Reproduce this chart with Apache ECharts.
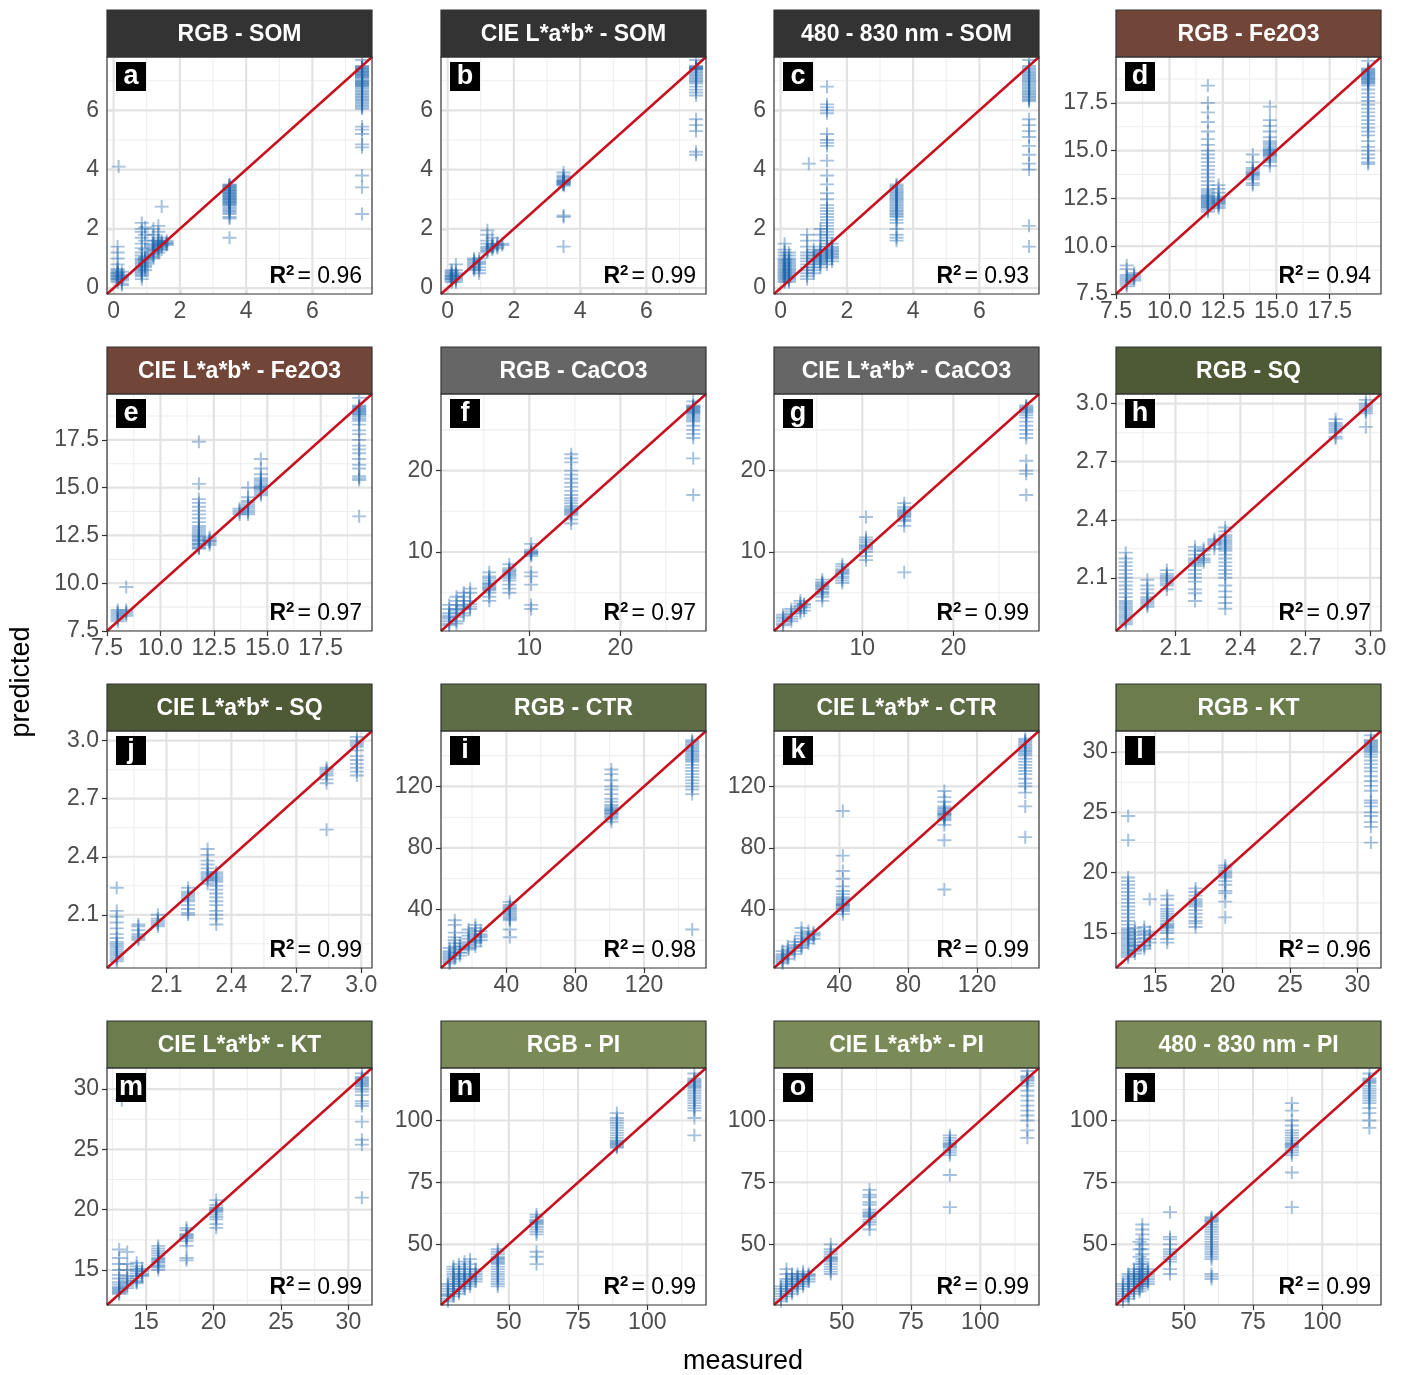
<!DOCTYPE html>
<html>
<head>
<meta charset="utf-8">
<script src="https://cdn.jsdelivr.net/npm/echarts@6/dist/echarts.min.js"></script>
<style>
  html, body { margin: 0; padding: 0; background: #fff; }
  #chart { width: 1401px; height: 1375px; }
</style>
</head>
<body>
<div id="chart"></div>
<script>
// panel titles, letters and R2 labels (reading order of the figure)
var panelTitles = ['RGB - SOM', 'CIE L*a*b* - SOM', '480 - 830 nm - SOM', 'RGB - Fe2O3',
  'CIE L*a*b* - Fe2O3', 'RGB - CaCO3', 'CIE L*a*b* - CaCO3', 'RGB - SQ',
  'CIE L*a*b* - SQ', 'RGB - CTR', 'CIE L*a*b* - CTR', 'RGB - KT',
  'CIE L*a*b* - KT', 'RGB - PI', 'CIE L*a*b* - PI', '480 - 830 nm - PI'];
var panelLetters = ['a', 'b', 'c', 'd', 'e', 'f', 'g', 'h', 'j', 'i', 'k', 'l', 'm', 'n', 'o', 'p'];
var r2Labels = ['0.96', '0.99', '0.93', '0.94', '0.97', '0.97', '0.99', '0.97',
  '0.99', '0.98', '0.99', '0.96', '0.99', '0.99', '0.99', '0.99'];
var panelProps = ['SOM', 'SOM', 'SOM', 'Fe2O3', 'Fe2O3', 'CaCO3', 'CaCO3', 'SQ',
  'SQ', 'CTR', 'CTR', 'KT', 'KT', 'PI', 'PI', 'PI'];

// axis limits and breaks per soil property (same on x and y)
var propLimits = {
  SOM: [-0.2, 7.8], Fe2O3: [7.5, 19.9], CaCO3: [0.3, 29.4], SQ: [1.825, 3.05],
  CTR: [2, 156], KT: [12.1, 31.75], PI: [25.5, 121.2]
};
var propTicks = {
  SOM: [0, 2, 4, 6], Fe2O3: [7.5, 10, 12.5, 15, 17.5], CaCO3: [10, 20], SQ: [2.1, 2.4, 2.7, 3.0],
  CTR: [40, 80, 120], KT: [15, 20, 25, 30], PI: [50, 75, 100]
};
var propMinor = {
  SOM: [1, 3, 5, 7], Fe2O3: [8.75, 11.25, 13.75, 16.25, 18.75], CaCO3: [5, 15, 25],
  SQ: [1.95, 2.25, 2.55, 2.85], CTR: [20, 60, 100, 140], KT: [12.5, 17.5, 22.5, 27.5],
  PI: [37.5, 62.5, 87.5, 112.5]
};
var propDecimals = { SOM: 0, Fe2O3: 1, CaCO3: 0, SQ: 1, CTR: 0, KT: 0, PI: 0 };

// data: [measured, [predicted ...]]
var somRgb = [
  [0.12, [0.2, 0.25, 0.3, 0.35, 0.4, 0.45, 0.5, 0.55, 0.6, 0.3, 0.4, 0.5, 0.65, 0.8, 1.0, 1.2, 1.4]],
  [0.25, [0.15, 0.25, 0.35, 0.45, 0.55, 0.3, 0.4, 0.1]],
  [0.15, [4.1]],
  [0.85, [0.4, 0.5, 0.6, 0.7, 0.8, 0.9, 1.0, 1.1, 1.2, 1.35, 1.5, 1.7, 1.9, 2.0, 2.2, 0.3, 0.45, 0.55, 0.65, 0.75, 0.85, 0.95]],
  [0.95, [0.6, 0.7, 0.8, 0.9, 1.0, 0.75, 0.85, 0.95, 1.05, 1.3, 1.6, 1.8, 2.05]],
  [1.2, [1.0, 1.1, 1.2, 1.3, 1.4, 1.5, 1.6, 1.8, 2.0, 1.25, 1.35, 1.45, 1.15, 1.05]],
  [1.35, [1.2, 1.3, 1.4, 1.5, 1.6, 1.7, 1.9, 2.1, 1.35, 1.45, 1.55]],
  [1.45, [1.3, 1.4, 1.5, 1.6, 2.75, 1.45, 1.55]],
  [1.6, [1.45, 1.5, 1.55, 1.6, 1.5]],
  [3.5, [3.5, 3.45, 3.4, 3.35, 3.3, 3.25, 3.2, 3.15, 3.1, 3.05, 3.0, 2.95, 2.9, 2.85, 2.8, 2.7, 2.6, 2.5, 2.4, 2.35, 1.7,
    3.48, 3.42, 3.38, 3.32, 3.28, 3.22, 3.18, 3.12, 3.08, 3.02, 2.98, 2.92, 2.88, 2.82, 2.75, 2.65, 2.55]],
  [7.5, [7.5, 7.45, 7.4, 7.35, 7.3, 7.25, 7.2, 7.15, 7.1, 7.0, 6.95, 6.9, 6.85, 6.8, 6.7, 6.6, 6.5, 6.4, 6.3, 6.2, 6.1, 6.05, 5.45, 5.35, 5.2, 4.85, 4.75, 3.8, 3.4, 2.5,
    7.48, 7.42, 7.38, 7.32, 7.28, 7.22, 7.18, 7.12, 7.05, 6.98, 6.92, 6.88, 6.82, 6.75, 6.65, 6.55, 6.45, 6.35, 6.25, 6.15, 7.7]]
];
var somLab = [
  [0.12, [0.2, 0.25, 0.3, 0.35, 0.4, 0.45, 0.5, 0.55, 0.6, 0.3, 0.4]],
  [0.25, [0.2, 0.3, 0.4, 0.5, 0.6, 0.8, 0.25, 0.35, 0.45]],
  [0.8, [0.6, 0.65, 0.7, 0.75, 0.8, 0.85, 0.9, 0.95, 1.0]],
  [0.95, [0.7, 0.8, 0.9, 1.0, 0.85, 0.6, 0.5]],
  [1.2, [1.2, 1.25, 1.3, 1.35, 1.4, 1.5, 1.6, 1.8, 1.95]],
  [1.35, [1.3, 1.35, 1.4, 1.45, 1.5, 1.7]],
  [1.5, [1.4, 1.45, 1.5, 1.35]],
  [1.65, [1.45, 1.5]],
  [3.5, [3.5, 3.55, 3.6, 3.65, 3.7, 3.75, 3.8, 3.9, 3.45, 3.5, 3.6, 2.4, 2.45, 1.4, 3.52, 3.57, 3.62]],
  [7.5, [7.5, 7.45, 7.4, 7.35, 7.3, 7.2, 7.1, 7.0, 6.9, 6.8, 6.7, 6.6, 6.5, 5.7, 5.5, 5.3, 4.6, 4.5, 7.45, 7.4, 7.48, 7.42, 7.38, 7.25, 7.15, 7.05, 6.95, 7.7]]
];
var somSpec = [
  [0.12, [0.2, 0.3, 0.4, 0.5, 0.6, 0.7, 0.8, 0.9, 1.0, 1.1, 1.2, 0.25, 0.35, 0.45, 0.55, 0.65, 0.75, 0.85, 0.95, 1.3, 1.5]],
  [0.25, [0.2, 0.3, 0.4, 0.5, 0.6, 0.7, 0.8, 0.9, 1.0, 1.1, 1.2, 0.25, 0.35, 0.45, 0.55, 0.65, 0.75, 0.85, 0.95]],
  [0.8, [0.4, 0.5, 0.6, 0.7, 0.8, 0.9, 1.0, 1.1, 1.2, 1.4, 1.6, 1.8, 0.3]],
  [0.85, [4.2]],
  [1.0, [0.6, 0.7, 0.8, 0.9, 1.0, 1.1, 1.2, 1.3, 0.5]],
  [1.2, [0.8, 0.9, 1.0, 1.1, 1.2, 1.3, 1.4, 0.7, 1.6, 1.8, 2.0, 0.85, 0.95, 1.05, 1.15, 1.25]],
  [1.4, [0.8, 0.9, 1.0, 1.1, 1.2, 1.3, 1.4, 1.5, 1.6, 1.7, 1.8, 1.9, 2.0, 2.1, 2.2, 2.3, 2.4, 2.5, 2.6, 2.7, 2.8, 3.0, 3.2, 3.5, 3.8, 4.3, 4.8, 4.9, 5.0, 5.2, 5.9, 6.0, 6.1, 6.2, 6.8]],
  [1.55, [1.0, 1.1, 1.2, 1.3, 1.4, 0.9, 1.5, 1.05, 1.15, 1.25, 1.35]],
  [3.5, [3.5, 3.45, 3.4, 3.3, 3.2, 3.1, 3.0, 2.9, 2.8, 2.7, 2.6, 2.5, 2.4, 2.3, 2.2, 2.0, 1.8, 1.7, 1.6,
    3.35, 3.25, 3.15, 3.05, 2.95, 2.85, 2.75, 2.65, 2.55, 2.45]],
  [7.5, [7.5, 7.45, 7.4, 7.3, 7.2, 7.1, 7.0, 6.9, 6.8, 6.7, 6.6, 6.5, 6.4, 6.3, 5.7, 5.5, 5.3, 5.1, 4.8, 4.5, 4.2, 4.0, 2.1, 1.4,
    7.35, 7.25, 7.15, 7.05, 6.95, 6.85, 6.75, 6.65, 6.55, 6.45, 6.35, 7.7]]
];
var feRgb = [
  [8.0, [8.0, 8.1, 8.2, 8.3, 8.4, 8.5, 8.8, 9.0, 7.9]],
  [8.35, [8.2, 8.3, 8.4, 8.5, 8.6]],
  [11.8, [11.8, 11.9, 12.0, 12.1, 12.2, 12.3, 12.4, 12.5, 12.6, 12.7, 12.8, 12.9, 13.0, 13.2, 13.4, 13.6, 13.8, 14.0, 14.2, 14.4, 14.6, 14.8, 15.0, 15.3, 15.6, 16.0, 16.5, 17.0, 17.5, 18.4, 12.15, 12.35, 12.55, 12.05, 12.25, 12.45, 12.65]],
  [12.3, [12.0, 12.1, 12.2, 12.3, 12.4, 12.5, 12.6, 12.8, 13.0, 13.2, 12.25, 12.45, 12.35]],
  [13.9, [13.6, 13.7, 13.8, 13.9, 14.0, 14.1, 13.5, 13.3, 13.2, 14.4, 14.8, 13.75, 13.85]],
  [14.7, [14.5, 14.6, 14.7, 14.8, 14.9, 15.0, 15.1, 15.2, 15.3, 15.4, 15.5, 15.7, 16.0, 16.3, 16.6, 17.3, 14.4, 14.2, 14.75, 14.85, 14.95, 15.05]],
  [19.3, [19.3, 19.2, 19.1, 19.0, 18.9, 18.8, 18.7, 18.6, 18.5, 18.4, 18.2, 18.0, 17.8, 17.6, 17.4, 17.2, 17.0, 16.8, 16.6, 16.4, 16.2, 16.0, 15.8, 15.5, 15.2, 15.0, 14.8, 14.6, 14.4, 14.3,
    19.25, 19.15, 19.05, 18.95, 18.85, 18.75, 18.65, 18.55, 19.7]]
];
var feLab = [
  [8.0, [8.0, 8.1, 8.2, 8.3, 8.4, 8.5, 8.6]],
  [8.4, [8.3, 8.4, 8.5, 8.6, 9.8]],
  [11.8, [11.8, 11.9, 12.0, 12.1, 12.2, 12.3, 12.4, 12.5, 12.6, 12.7, 12.8, 12.9, 13.0, 13.2, 13.4, 13.6, 13.8, 14.0, 14.2, 14.4, 15.2, 17.4, 11.85, 12.05, 12.25, 12.45]],
  [12.3, [12.0, 12.1, 12.2, 12.3, 12.4, 12.2]],
  [13.7, [13.6, 13.7, 13.8, 13.9]],
  [14.1, [13.7, 13.8, 13.9, 14.0, 14.1, 14.2, 14.3, 14.5, 15.0, 13.6]],
  [14.7, [14.7, 14.8, 14.9, 15.0, 15.1, 15.2, 15.3, 15.4, 15.5, 15.7, 16.0, 16.5, 14.6, 14.95, 15.05]],
  [19.3, [19.3, 19.2, 19.1, 19.0, 18.9, 18.8, 18.7, 18.6, 18.5, 18.3, 18.0, 17.8, 17.5, 17.2, 17.0, 16.8, 16.5, 16.2, 16.0, 15.6, 15.5, 15.4, 13.5,
    19.25, 19.15, 19.05, 18.95, 18.85, 19.7]]
];
var caRgb = [
  [1.2, [1.0, 1.5, 2.0, 2.5, 3.0, 3.5, 1.2, 1.8, 2.2]],
  [2.0, [1.5, 2.0, 2.5, 3.0, 3.5, 4.0, 4.5, 1.2, 2.8]],
  [2.8, [2.5, 3.0, 3.5, 4.0, 4.5, 5.0, 2.2, 3.3]],
  [3.5, [3.0, 3.3, 3.6, 4.0, 5.0, 5.5]],
  [5.6, [5.0, 5.3, 5.6, 5.9, 6.2, 6.5, 6.8, 7.0, 4.5, 4.0, 7.5, 5.45, 5.75, 6.05]],
  [7.8, [6.5, 6.8, 7.0, 7.2, 7.5, 7.8, 8.0, 6.0, 5.5, 5.0, 8.5, 7.35, 7.65]],
  [10.2, [9.5, 9.7, 9.9, 10.1, 10.3, 10.0, 9.8, 7.5, 7.0, 6.0, 3.5, 3.0, 11.0]],
  [14.6, [14.5, 14.7, 15.0, 15.3, 15.5, 15.7, 16.0, 16.3, 16.6, 17.0, 17.5, 18.0, 18.5, 19.0, 19.5, 20.0, 21.0, 21.5, 22.0, 14.0, 13.5, 14.85, 15.15]],
  [28.0, [28.0, 27.8, 27.6, 27.4, 27.2, 27.0, 26.8, 26.6, 26.4, 26.2, 26.0, 25.5, 25.0, 24.5, 24.0, 21.5, 17.0, 28.5, 27.9, 27.7, 27.5, 27.3, 27.1]]
];
var caLab = [
  [1.3, [1.2, 1.5, 1.8, 2.0, 2.3, 1.0]],
  [2.2, [1.8, 2.1, 2.4, 2.7, 3.0, 1.5]],
  [3.2, [2.5, 2.8, 3.1, 3.4, 3.7, 4.0, 3.3]],
  [3.6, [3.2, 3.5, 3.6, 2.8]],
  [5.6, [4.5, 4.8, 5.1, 5.4, 5.7, 6.0, 6.3, 6.6, 5.0, 5.5, 4.0, 5.85, 6.15]],
  [7.8, [6.5, 6.8, 7.0, 7.3, 7.6, 7.9, 8.2, 6.2, 8.5, 7.45, 7.75]],
  [10.4, [10.0, 10.3, 10.6, 10.9, 11.2, 11.5, 11.8, 9.5, 9.0, 14.3, 10.45, 10.75]],
  [14.6, [14.0, 14.3, 14.6, 14.9, 15.2, 15.5, 13.8, 13.2, 16.0, 7.5, 14.45, 14.75, 15.05]],
  [28.0, [28.0, 27.7, 27.4, 27.1, 26.8, 26.5, 26.0, 25.5, 25.0, 24.5, 24.0, 21.2, 20.0, 19.6, 17.0, 27.85, 27.55, 27.25]]
];
var sqRgb = [
  [1.87, [1.86, 1.88, 1.9, 1.92, 1.94, 1.96, 1.98, 2.0, 2.02, 2.04, 2.06, 2.08, 2.1, 2.12, 2.14, 2.16, 2.18, 2.2, 2.23, 1.89, 1.91, 1.93, 1.87, 1.95, 1.97]],
  [1.97, [1.96, 1.97, 1.98, 1.99, 2.0, 2.02, 2.04, 2.06, 2.09, 1.95]],
  [2.06, [2.06, 2.07, 2.08, 2.09, 2.1, 2.11, 2.12, 2.04, 2.14]],
  [2.19, [2.1, 2.12, 2.14, 2.16, 2.18, 2.2, 2.22, 2.24, 2.26, 2.04, 2.02, 2.08, 1.98, 2.17, 2.19]],
  [2.23, [2.18, 2.2, 2.22, 2.24, 2.25, 2.19]],
  [2.28, [2.25, 2.27, 2.29, 2.3, 2.28]],
  [2.33, [2.2, 2.22, 2.24, 2.26, 2.28, 2.3, 2.32, 2.18, 2.16, 2.14, 2.12, 2.1, 2.06, 2.03, 2.0, 1.97, 1.94, 2.34, 2.36, 2.25, 2.27, 2.29, 2.31]],
  [2.84, [2.83, 2.85, 2.87, 2.89, 2.9, 2.92, 2.82, 2.86, 2.88]],
  [2.98, [2.95, 2.96, 2.97, 2.98, 2.99, 3.0, 2.88, 3.02]]
];
var sqLab = [
  [1.87, [1.86, 1.88, 1.9, 1.92, 1.94, 1.96, 1.98, 2.0, 2.03, 2.06, 2.09, 2.12, 1.89, 1.91, 1.95, 2.24, 1.87, 1.93]],
  [1.97, [1.97, 1.98, 1.99, 2.0, 2.02, 2.04, 2.05]],
  [2.06, [2.04, 2.05, 2.06, 2.07, 2.08, 2.1]],
  [2.2, [2.15, 2.17, 2.19, 2.21, 2.22, 2.13, 2.11, 2.1, 2.24, 2.18, 2.2]],
  [2.29, [2.28, 2.3, 2.31, 2.32, 2.34, 2.36, 2.38, 2.41, 2.44, 2.26, 2.29]],
  [2.33, [2.15, 2.17, 2.19, 2.21, 2.23, 2.25, 2.27, 2.29, 2.31, 2.32, 2.12, 2.1, 2.08, 2.05, 2.3, 2.28]],
  [2.84, [2.83, 2.84, 2.85, 2.86, 2.82, 2.8, 2.78, 2.54]],
  [2.98, [2.97, 2.98, 2.99, 3.0, 2.95, 2.92, 2.9, 2.88, 2.86, 2.84, 2.82, 3.02]]
];
var ctrRgb = [
  [7, [5, 7, 9, 11, 13, 15, 8, 10, 12, 6]],
  [10, [8, 10, 12, 14, 16, 18, 20, 22, 25, 30, 33]],
  [13, [10, 12, 14, 16, 18, 12]],
  [18, [15, 17, 19, 21, 23, 25, 14, 27]],
  [22, [16, 18, 20, 22, 24, 26, 28, 30, 19]],
  [25, [20, 22, 24, 26, 23]],
  [42, [33, 35, 37, 39, 41, 43, 34, 36, 38, 40, 27, 22, 45, 42]],
  [101, [100, 101, 102, 103, 104, 105, 106, 107, 108, 110, 112, 115, 118, 120, 124, 128, 131, 99, 97, 102.5, 104.5]],
  [148, [150, 148, 146, 144, 142, 140, 138, 136, 134, 132, 130, 128, 126, 124, 122, 120, 118, 115, 147, 143, 139, 27, 149, 145, 141, 137]]
];
var ctrLab = [
  [7, [5, 7, 9, 11, 13, 6, 8, 10]],
  [10, [8, 10, 12, 14, 16, 11]],
  [14, [11, 13, 15, 17, 19]],
  [18, [15, 17, 19, 21, 23, 25, 28, 16]],
  [22, [18, 20, 22, 24, 26, 21]],
  [25, [21, 23, 25, 24]],
  [42, [40, 41, 42, 43, 44, 45, 46, 47, 48, 50, 52, 55, 60, 65, 75, 104, 39, 37, 42.5, 43.5]],
  [101, [98, 99, 100, 101, 102, 103, 104, 105, 106, 107, 110, 113, 117, 95, 85, 53, 101.5, 102.5]],
  [148, [150, 149, 148, 147, 146, 145, 144, 142, 140, 138, 136, 134, 132, 130, 128, 125, 122, 120, 116, 107, 87, 151, 143, 141]]
];
var ktRgb = [
  [13, [13.0, 13.3, 13.6, 13.9, 14.2, 14.5, 14.8, 15.1, 15.4, 15.7, 16.0, 16.3, 16.6, 16.9, 17.2, 17.5, 17.8, 18.1, 18.4, 18.7, 19.0, 19.3, 19.6, 22.7, 24.7, 13.15, 13.45, 13.75, 14.05, 14.35, 14.65, 14.95, 15.25]],
  [13.5, [13.3, 13.6, 13.9, 14.2, 14.5, 14.8, 15.1, 15.4, 13.5, 14.0]],
  [14.2, [13.7, 14.0, 14.3, 14.6, 14.9, 15.2, 15.5, 13.9]],
  [14.6, [14.2, 14.5, 14.8, 15.1, 17.8]],
  [15.9, [15.0, 15.2, 15.4, 15.6, 15.8, 16.0, 16.2, 16.4, 16.6, 16.8, 17.0, 17.3, 17.8, 18.1, 14.5, 14.2, 15.5, 15.7]],
  [18.0, [16.0, 16.3, 16.6, 16.9, 17.2, 17.5, 17.8, 18.1, 18.4, 15.5, 18.7, 15.8, 17.35, 17.65]],
  [20.2, [19.0, 19.3, 19.6, 19.9, 20.2, 20.4, 18.5, 18.3, 17.6, 16.3, 20.6, 19.75, 20.05]],
  [31.0, [31.0, 30.8, 30.6, 30.4, 30.2, 30.0, 29.8, 29.6, 29.3, 29.0, 28.7, 28.4, 28.0, 27.6, 27.2, 26.8, 26.0, 25.8, 25.5, 25.0, 24.7, 24.2, 23.8, 22.5, 31.4,
    30.9, 30.7, 30.5, 30.3, 30.1]]
];
var ktLab = [
  [13, [13.0, 13.2, 13.4, 13.6, 13.8, 14.0, 14.3, 14.6, 15.0, 15.5, 16.0, 16.7, 13.1, 13.3, 13.5]],
  [13.2, [29.1]],
  [13.6, [13.5, 13.7, 13.9, 14.1, 14.3, 14.5, 15.0, 15.5, 16.5]],
  [14.3, [13.9, 14.1, 14.3, 14.5, 14.7, 14.9, 15.1, 15.3, 15.6, 14.0]],
  [14.7, [14.5, 14.7, 14.9, 15.1, 14.6]],
  [15.9, [15.0, 15.2, 15.4, 15.6, 15.8, 16.0, 16.2, 16.4, 16.6, 16.8, 17.0, 15.3, 15.7, 15.9]],
  [18.0, [17.4, 17.6, 17.8, 18.0, 18.3, 17.0, 16.0, 15.8, 18.5, 17.7, 17.9]],
  [20.2, [19.2, 19.4, 19.6, 19.8, 20.0, 20.2, 20.4, 18.8, 18.5, 20.8, 19.9, 20.1]],
  [31.0, [31.0, 30.8, 30.6, 30.4, 30.2, 30.0, 29.8, 29.5, 29.0, 28.8, 28.6, 27.3, 25.8, 25.4, 21.0, 31.3, 30.9, 30.7, 30.5, 30.3]]
];
var piRgb = [
  [28, [28, 29, 30, 31, 32, 33, 34, 29.5, 27]],
  [30, [29, 30, 31, 32, 33, 34, 35, 36, 37, 38, 39, 40, 41]],
  [32, [30, 31, 32, 33, 34, 35, 36, 37, 38, 40, 42]],
  [34, [32, 33, 34, 35, 36, 37, 38, 39, 40, 41, 43]],
  [36, [33, 34, 35, 36, 37, 38, 40, 42, 44]],
  [38, [35, 36, 37, 38, 39, 40]],
  [46, [39, 40, 41, 42, 43, 44, 45, 46, 47, 48, 38, 37, 36, 35, 34, 33, 42.5, 43.5, 44.5]],
  [60, [57, 58, 59, 60, 61, 62, 56, 55, 54, 47, 45, 42, 58.5, 59.5]],
  [89, [89, 90, 91, 92, 93, 94, 95, 96, 97, 98, 99, 100, 101, 103, 89.5, 90.5, 91.5]],
  [117, [117, 116, 115, 114, 113, 112, 111, 110, 109, 108, 107, 106, 105, 104, 101, 94, 119, 116.5, 115.5, 114.5, 113.5]]
];
var piLab = [
  [28, [28, 29, 30, 31, 32, 33, 27]],
  [30, [29, 30, 31, 32, 33, 34, 35, 36, 38, 40]],
  [32, [30, 31, 32, 33, 34, 35, 36, 37, 38]],
  [34, [32, 33, 34, 35, 36, 37, 38]],
  [36, [33, 34, 35, 36, 37, 38, 39]],
  [38, [35, 36, 37, 38, 37.5]],
  [46, [40, 41, 42, 43, 44, 45, 46, 47, 39, 38, 48, 50, 43.5, 44.5]],
  [60, [60, 61, 62, 63, 59, 64, 66, 67, 69, 70, 72, 58, 56, 61.5, 62.5]],
  [89, [88, 89, 90, 91, 92, 93, 94, 87, 86, 78, 65, 89.5, 90.5]],
  [117, [118, 117, 116, 115, 114, 112, 110, 108, 106, 104, 102, 100, 96, 93, 120, 117.5, 116.5]]
];
var piSpec = [
  [28, [28, 29, 30, 31, 32, 33, 34, 27]],
  [30, [29, 30, 31, 32, 33, 34, 35, 36, 37, 38, 28]],
  [32, [30, 31, 32, 33, 34, 35, 36, 37, 38, 39, 40]],
  [34, [31, 32, 33, 34, 35, 36, 37, 38, 40, 42, 45, 48, 51]],
  [35, [33, 34, 35, 36, 37, 38, 39, 40, 41, 42, 43, 44, 46, 48, 50, 52, 54, 56, 58]],
  [37, [34, 35, 36, 37, 38, 39, 40]],
  [45, [45, 46, 47, 48, 44, 43, 40, 38, 50, 52, 53, 63]],
  [60, [61, 60, 59, 58, 57, 56, 55, 54, 53, 52, 51, 50, 49, 48, 47, 46, 45, 44, 38, 37, 36, 60.5, 59.5]],
  [89, [87, 88, 89, 90, 91, 92, 93, 94, 95, 96, 98, 100, 104, 107, 86, 79, 65, 89.5, 90.5]],
  [117, [117, 116, 115, 114, 113, 112, 111, 110, 109, 108, 107, 105, 103, 100, 97, 119, 116.5, 115.5]]
];

var panelData = [somRgb, somLab, somSpec, feRgb, feLab, caRgb, caLab, sqRgb,
  sqLab, ctrRgb, ctrLab, ktRgb, ktLab, piRgb, piLab, piSpec];

// strip colours
var stripColors = ['#333333', '#333333', '#333333', '#724539', '#724539', '#666666', '#666666', '#4e5a36',
  '#4e5a36', '#5e6d45', '#5e6d45', '#6b7c4d', '#6b7c4d', '#7a8b57', '#7a8b57', '#7a8b57'];

var chart = echarts.init(document.getElementById('chart'));

var font = 'Liberation Sans, Arial, Helvetica, sans-serif';
var colLeft = [107, 441, 774, 1116];
var rowTop = [57, 394, 731, 1068];
var plotW = 265, plotH = 237, stripH = 47;
// "+" glyph, arms 2 units thick in a 14 unit box
var plusMark = 'path://M0,6H14V8H0Z M6,0H8V14H6Z';

function toPoints(groups) {
  var pts = [];
  groups.forEach(function (g) {
    g[1].forEach(function (y) { pts.push([g[0], y]); });
  });
  return pts;
}

var grids = [], xAxes = [], yAxes = [], series = [], graphics = [];

panelTitles.forEach(function (title, i) {
  var r = Math.floor(i / 4), c = i % 4;
  var left = colLeft[c], top = rowTop[r];
  var prop = panelProps[i];
  var lim = propLimits[prop];
  var dec = propDecimals[prop];

  grids.push({ left: left, top: top, width: plotW, height: plotH, containLabel: false });

  function axis(isX) {
    return {
      gridIndex: i, type: 'value', min: lim[0], max: lim[1],
      axisLine: { show: false },
      axisTick: { show: true, customValues: propTicks[prop], length: 5, lineStyle: { color: '#333', width: 1.2 } },
      axisLabel: {
        customValues: propTicks[prop], fontSize: 23, color: '#4d4d4d', fontFamily: font,
        margin: isX ? 6 : 8,
        formatter: function (v) { return Number(v).toFixed(dec); }
      },
      splitLine: { show: false }
    };
  }
  xAxes.push(axis(true));
  yAxes.push(axis(false));

  // grid lines: [value, 0 = vertical / 1 = horizontal, major flag]
  var gl = [];
  propMinor[prop].forEach(function (v) { gl.push([v, 0, 0]); gl.push([v, 1, 0]); });
  propTicks[prop].forEach(function (v) { gl.push([v, 0, 1]); gl.push([v, 1, 1]); });
  series.push({
    type: 'custom', xAxisIndex: i, yAxisIndex: i, silent: true, z: 1, clip: true,
    data: gl,
    renderItem: function (params, api) {
      var cs = params.coordSys;
      var v = api.value(0), o = api.value(1), mj = api.value(2);
      var shape;
      if (o === 0) {
        var x = api.coord([v, lim[0]])[0];
        shape = { x1: x, y1: cs.y, x2: x, y2: cs.y + cs.height };
      } else {
        var y = api.coord([lim[0], v])[1];
        shape = { x1: cs.x, y1: y, x2: cs.x + cs.width, y2: y };
      }
      return { type: 'line', shape: shape, style: { stroke: mj ? '#e3e3e3' : '#eeeeee', lineWidth: mj ? 2.2 : 1.1 } };
    }
  });

  series.push({
    type: 'scatter', xAxisIndex: i, yAxisIndex: i, silent: true, z: 2,
    symbol: plusMark, symbolSize: [14, 13],
    itemStyle: { color: 'rgba(33, 102, 172, 0.5)' },
    data: toPoints(panelData[i])
  });

  series.push({
    type: 'line', xAxisIndex: i, yAxisIndex: i, silent: true, z: 3,
    symbol: 'none', lineStyle: { color: '#c8101e', width: 2.5 },
    data: [[lim[0], lim[0]], [lim[1], lim[1]]]
  });

  // strip header
  graphics.push({
    type: 'rect', z: 100,
    shape: { x: left, y: top - stripH, width: plotW, height: stripH },
    style: { fill: stripColors[i], stroke: '#333', lineWidth: 1.2 }
  });
  graphics.push({
    type: 'text', z: 101, x: left + plotW / 2, y: top - stripH / 2 + 1,
    style: { text: title, fill: '#fff', font: 'bold 23px ' + font, textAlign: 'center', textVerticalAlign: 'middle' }
  });
  // panel border
  graphics.push({
    type: 'rect', z: 100,
    shape: { x: left, y: top, width: plotW, height: plotH },
    style: { fill: 'none', stroke: '#333', lineWidth: 1.2 }
  });
  // letter tag
  graphics.push({
    type: 'rect', z: 100,
    shape: { x: left + 9, y: top + 5, width: 30, height: 29 },
    style: { fill: '#000' }
  });
  graphics.push({
    type: 'text', z: 101, x: left + 24, y: top + 20,
    style: { text: panelLetters[i], fill: '#fff', font: 'bold 27px ' + font, textAlign: 'center', textVerticalAlign: 'middle' }
  });
  // R2 label
  graphics.push({
    type: 'text', z: 101, x: left + plotW - 10, y: top + plotH - 3,
    style: {
      text: '{r|R}{s|2}{t|= ' + r2Labels[i] + '}',
      textAlign: 'right', textVerticalAlign: 'bottom',
      rich: {
        r: { fontSize: 23, fontWeight: 'bold', fontFamily: font, fill: '#000', lineHeight: 28 },
        s: { fontSize: 15, fontWeight: 'bold', fontFamily: font, fill: '#000', verticalAlign: 'top', lineHeight: 28, padding: [0, 3, 0, 0] },
        t: { fontSize: 23, fontFamily: font, fill: '#000', lineHeight: 28 }
      }
    }
  });
});

graphics.push({
  type: 'text', z: 101, x: 22, y: 682, rotation: Math.PI / 2,
  style: { text: 'predicted', fill: '#000', font: '27px ' + font, textAlign: 'center', textVerticalAlign: 'middle' }
});
graphics.push({
  type: 'text', z: 101, x: 743, y: 1362,
  style: { text: 'measured', fill: '#000', font: '27px ' + font, textAlign: 'center', textVerticalAlign: 'middle' }
});

chart.setOption({
  animation: false,
  backgroundColor: '#fff',
  textStyle: { fontFamily: font },
  grid: grids,
  xAxis: xAxes,
  yAxis: yAxes,
  series: series,
  graphic: graphics
});
</script>
</body>
</html>
